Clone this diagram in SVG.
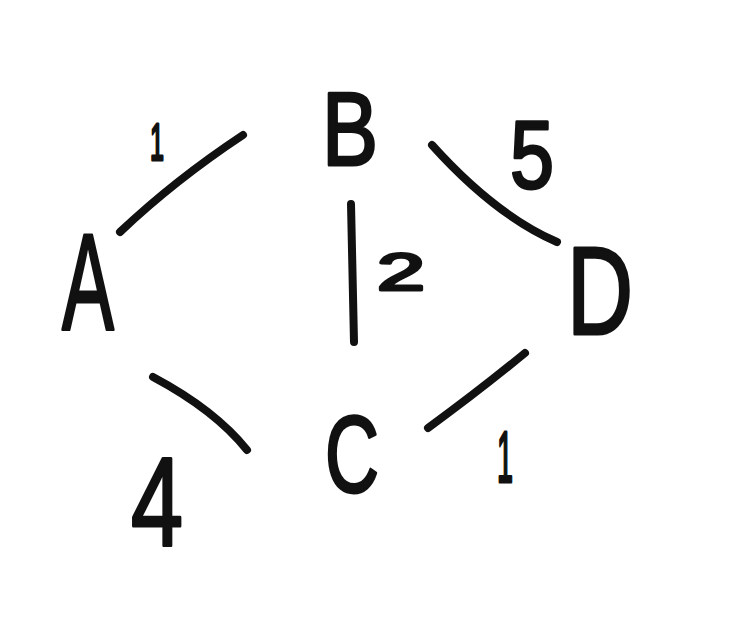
<svg xmlns="http://www.w3.org/2000/svg" width="743" height="626" viewBox="0 0 743 626">
<style>
.n{font-family:"Liberation Sans",Arial,sans-serif;fill:#111;text-anchor:middle;stroke:#111;stroke-width:3;stroke-linejoin:round}
.e{fill:none;stroke:#111;stroke-width:8;stroke-linecap:round;stroke-linejoin:round}
</style>
<rect width="743" height="626" fill="#fff"/>
<g id="connectors">
<path id="edge-A-B" class="e" d="M120,232 Q175,180 243,135"/>
<path id="edge-B-D" class="e" d="M432,145 Q495,215 557,242"/>
<path id="edge-B-C" class="e" d="M351,204 L354,342"/>
<path id="edge-A-C" class="e" d="M153,377 Q215,410 247,450"/>
<path id="edge-C-D" class="e" d="M428,428 Q480,390 525,353"/>
</g>
<g id="node-A"><text class="n" x="88" y="330" font-size="138" textLength="52" lengthAdjust="spacingAndGlyphs">A</text></g>
<g id="node-B"><text class="n" x="350" y="165" font-size="104" textLength="56" lengthAdjust="spacingAndGlyphs">B</text></g>
<g id="node-C"><text class="n" x="352" y="492" font-size="110" textLength="54" lengthAdjust="spacingAndGlyphs">C</text></g>
<g id="node-D"><text class="n" x="600" y="334" font-size="124" textLength="66" lengthAdjust="spacingAndGlyphs">D</text></g>
<g id="labels">
<text class="n" x="157" y="160" font-size="52" textLength="14" lengthAdjust="spacingAndGlyphs">1</text>
<text class="n" x="532" y="188" font-size="96" textLength="44" lengthAdjust="spacingAndGlyphs">5</text>
<text class="n" x="401" y="290" font-size="52" textLength="48" lengthAdjust="spacingAndGlyphs">2</text>
<text class="n" x="157" y="546" font-size="126" textLength="52" lengthAdjust="spacingAndGlyphs">4</text>
<text class="n" x="505" y="482" font-size="72" textLength="16" lengthAdjust="spacingAndGlyphs">1</text>
</g>
</svg>
